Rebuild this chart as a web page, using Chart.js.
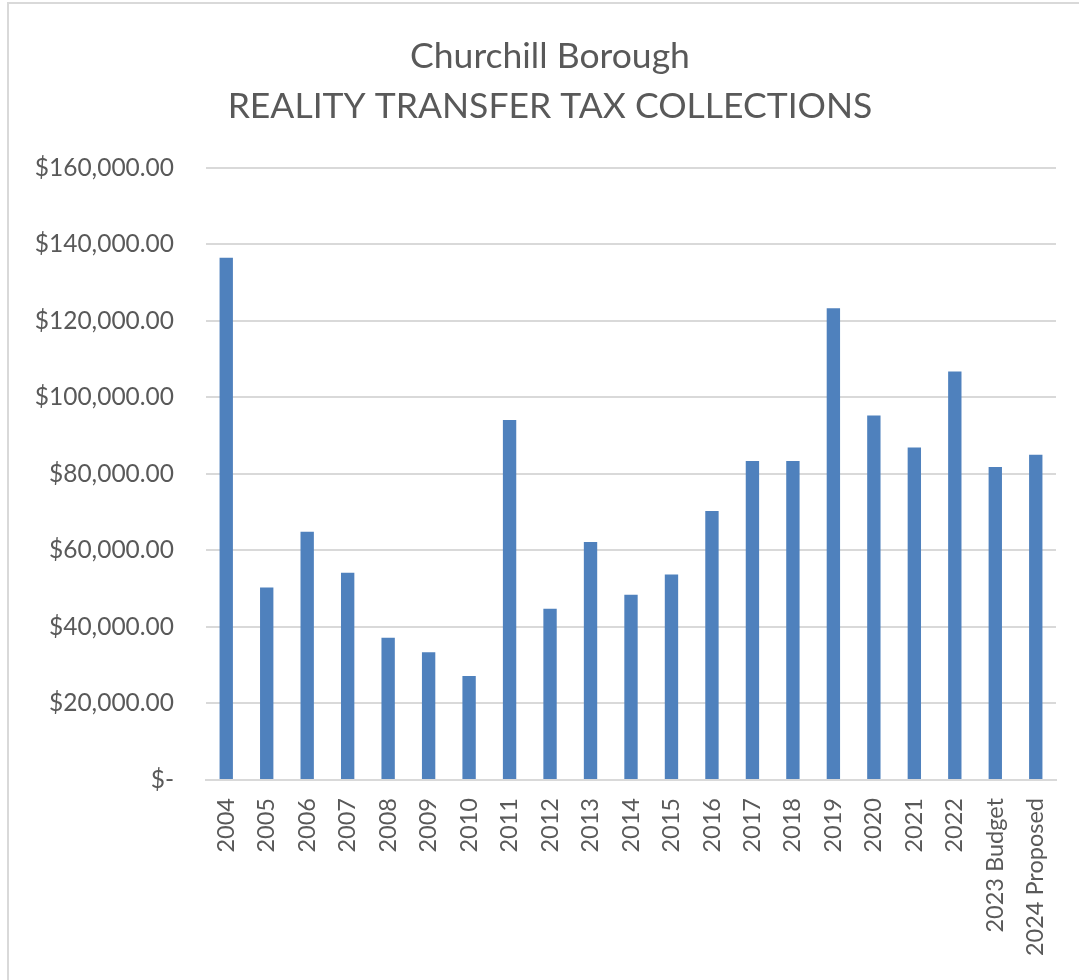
<!DOCTYPE html>
<html>
<head>
<meta charset="utf-8">
<script src="https://cdn.jsdelivr.net/npm/chart.js@4/dist/chart.umd.min.js"></script>
<style>
  html, body { margin: 0; padding: 0; background: #fff; }
  #wrap { position: relative; width: 1079px; height: 980px; overflow: hidden; }
  #frame { position: absolute; left: 7px; top: 2px; width: 1200px; height: 1200px; border: 2px solid #d9d9d9; }
  canvas { position: absolute; left: 0; top: 0; }
</style>
</head>
<body>
<div id="wrap">
  <div id="frame"></div>
  <canvas id="taxChart" width="1079" height="980"></canvas>
</div>
<script>
// categories and collections
const years = ['2004', '2005', '2006', '2007', '2008', '2009', '2010', '2011', '2012', '2013',
    '2014', '2015', '2016', '2017', '2018', '2019', '2020', '2021', '2022', '2023 Budget', '2024 Proposed'];
const collections = [136500, 50300, 64900, 54200, 37200, 33400, 27200, 94100, 44800, 62200,
    48400, 53700, 70300, 83400, 83400, 123300, 95300, 86900, 106800, 81800, 85000];
const yTicks = [0, 20000, 40000, 60000, 80000, 100000, 120000, 140000, 160000];
const titleLines = ['Churchill Borough', 'REALITY TRANSFER TAX COLLECTIONS'];

const fontFamily = 'Lato, "Open Sans", sans-serif';
const textColor = '#595959';

function money(v) {
    if (v === 0) return '$-';
    return '$' + v.toLocaleString('en-US', { minimumFractionDigits: 2, maximumFractionDigits: 2 });
}

// the reference title sits a bit right of the canvas centre
const shiftTitle = {
    id: 'shiftTitle',
    afterLayout: function(chart) {
        if (chart.titleBlock) {
            chart.titleBlock.left = 44;
            chart.titleBlock.right = 1056;
        }
    }
};

const ctx = document.getElementById('taxChart').getContext('2d');

const taxChart = new Chart(ctx, {
    type: 'bar',
    data: {
        labels: years,
        datasets: [{
            data: collections,
            backgroundColor: '#4f81bd',
            borderWidth: 0,
            categoryPercentage: 1,
            barPercentage: 0.33
        }]
    },
    options: {
        responsive: false,
        animation: false,
        layout: { padding: { left: 0, right: 23, top: 0, bottom: 0 } },
        plugins: {
            legend: { display: false },
            tooltip: { enabled: false },
            title: {
                display: true,
                text: titleLines,
                color: textColor,
                font: { family: fontFamily, size: 35.5, weight: 'normal', lineHeight: 1.408 },
                padding: { top: 32, bottom: 36 }
            }
        },
        scales: {
            x: {
                grid: { display: false, drawTicks: false },
                border: { display: true, color: '#d9d9d9', width: 2 },
                ticks: {
                    color: textColor,
                    font: { family: fontFamily, size: 23.5 },
                    minRotation: 90,
                    maxRotation: 90,
                    autoSkip: false,
                    padding: 18
                },
                afterFit: function(scale) {
                    scale.height = 200;
                    scale.paddingLeft = 0;
                    scale.paddingRight = 0;
                }
            },
            y: {
                min: 0,
                max: 160000,
                afterBuildTicks: function(scale) {
                    scale.ticks = yTicks.map(function(v) { return { value: v }; });
                },
                grid: { color: '#d9d9d9', lineWidth: 2, drawTicks: false },
                border: { display: false },
                ticks: {
                    color: textColor,
                    font: { family: fontFamily, size: 24.5 },
                    padding: 32,
                    callback: function(v) { return money(v); }
                },
                afterFit: function(scale) { scale.width = 206; }
            }
        }
    },
    plugins: [shiftTitle]
});
</script>
</body>
</html>
